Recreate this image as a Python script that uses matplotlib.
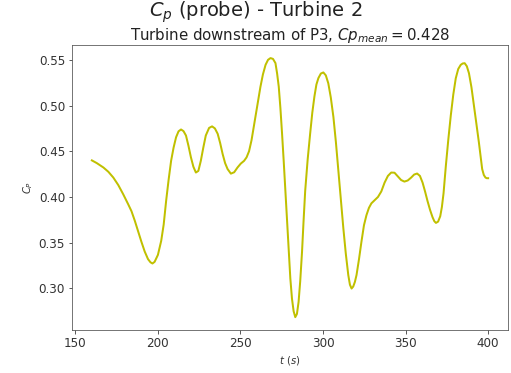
import matplotlib
matplotlib.use("Agg")
import matplotlib.pyplot as plt

# probe power coefficient for turbine 2
t = [160.0, 163.0, 167.0, 170.0, 173.0, 176.0, 179.0, 182.0, 184.0, 186.0,
     188.0, 190.0, 192.0, 194.0, 195.5, 196.7, 198.0, 200.0, 202.0, 203.5,
     205.0, 206.5, 208.0, 209.5, 211.0, 212.5, 214.0, 215.5, 217.0, 218.5,
     220.0, 221.5, 223.0, 224.5, 226.0, 227.5, 229.0, 231.0, 232.8, 234.5,
     236.2, 237.7, 239.2, 240.7, 242.2, 244.2, 246.2, 248.2, 250.2, 252.2,
     253.7, 255.2, 256.7, 258.0, 259.1, 260.6, 262.1, 263.6, 265.2, 266.7,
     268.2, 269.7, 271.2, 272.2, 273.2, 274.2, 275.2, 276.2, 277.2, 278.2,
     279.2, 280.2, 281.2, 282.2, 283.2, 284.2, 285.2, 286.2, 287.3, 288.2,
     289.2, 290.7, 292.2, 293.5, 294.8, 296.0, 297.2, 298.7, 300.2, 301.7,
     303.2, 304.7, 306.3, 307.8, 309.3, 310.8, 312.3, 313.8, 315.3, 316.3,
     317.3, 318.3, 319.3, 320.3, 321.8, 323.3, 324.8, 326.3, 327.8, 329.3,
     331.3, 333.3, 335.3, 337.3, 339.3, 341.3, 343.3, 345.3, 347.3, 349.3,
     351.3, 353.4, 355.2, 357.0, 358.7, 360.3, 361.8, 363.3, 364.8, 366.3,
     367.4, 368.4, 369.7, 371.0, 372.0, 373.0, 374.4, 375.9, 377.4, 378.9,
     380.4, 381.9, 383.4, 384.6, 385.8, 387.1, 388.4, 389.9, 391.4, 392.9,
     394.4, 395.4, 396.4, 397.4, 398.4, 399.2, 400.0]
cp = [0.4400, 0.4370, 0.4322, 0.4275, 0.4212, 0.4130, 0.4029, 0.3920, 0.3844, 0.3740,
      0.3624, 0.3510, 0.3403, 0.3320, 0.3285, 0.3272, 0.3290, 0.3366, 0.3520, 0.3698,
      0.3960, 0.4190, 0.4396, 0.4540, 0.4653, 0.4718, 0.4738, 0.4720, 0.4672, 0.4560,
      0.4433, 0.4330, 0.4267, 0.4285, 0.4396, 0.4540, 0.4672, 0.4755, 0.4772, 0.4750,
      0.4691, 0.4590, 0.4470, 0.4370, 0.4305, 0.4255, 0.4270, 0.4322, 0.4365, 0.4395,
      0.4433, 0.4500, 0.4620, 0.4760, 0.4874, 0.5040, 0.5205, 0.5340, 0.5445, 0.5500,
      0.5519, 0.5510, 0.5464, 0.5350, 0.5205, 0.4970, 0.4691, 0.4390, 0.4065, 0.3730,
      0.3403, 0.3110, 0.2887, 0.2750, 0.2685, 0.2720, 0.2851, 0.3080, 0.3403, 0.3730,
      0.4065, 0.4410, 0.4691, 0.4920, 0.5100, 0.5230, 0.5300, 0.5350, 0.5362, 0.5330,
      0.5243, 0.5090, 0.4874, 0.4600, 0.4286, 0.3970, 0.3660, 0.3380, 0.3146, 0.3040,
      0.2998, 0.3020, 0.3070, 0.3146, 0.3320, 0.3513, 0.3690, 0.3800, 0.3880, 0.3930,
      0.3965, 0.4000, 0.4060, 0.4157, 0.4230, 0.4267, 0.4265, 0.4225, 0.4185, 0.4168,
      0.4180, 0.4212, 0.4245, 0.4256, 0.4230, 0.4157, 0.4060, 0.3955, 0.3860, 0.3780,
      0.3735, 0.3716, 0.3730, 0.3789, 0.3890, 0.4040, 0.4341, 0.4630, 0.4893, 0.5120,
      0.5298, 0.5400, 0.5445, 0.5460, 0.5463, 0.5430, 0.5353, 0.5200, 0.5003, 0.4800,
      0.4598, 0.4450, 0.4305, 0.4240, 0.4212, 0.4205, 0.4205]
cp_mean = 0.428

fig = plt.figure(figsize=(511 / 72, 373 / 72), dpi=72)
ax = fig.add_axes([0.141, 0.115, 0.853, 0.764])

ax.plot(t, cp, color="#c0c000", lw=2)

ax.set_xticks([150, 200, 250, 300, 350, 400])
ax.set_yticks([0.30, 0.35, 0.40, 0.45, 0.50, 0.55])
ax.tick_params(labelsize=12, colors="#333333")
for s in ax.spines.values():
    s.set_edgecolor("#555555")
ax.set_xlabel(r"$t\ (s)$", fontsize=10, color="#333333")
ax.set_ylabel(r"$C_P$", fontsize=10, color="#333333")
ax.set_title(r"Turbine downstream of P3, $Cp_{mean}=%.3f$" % cp_mean,
             fontsize=15, color="#222222", pad=4)
fig.suptitle(r"$C_p$ (probe) - Turbine 2", fontsize=19.5, y=1.0, va="top",
             color="#222222")

fig.savefig("out.png", dpi=72)
